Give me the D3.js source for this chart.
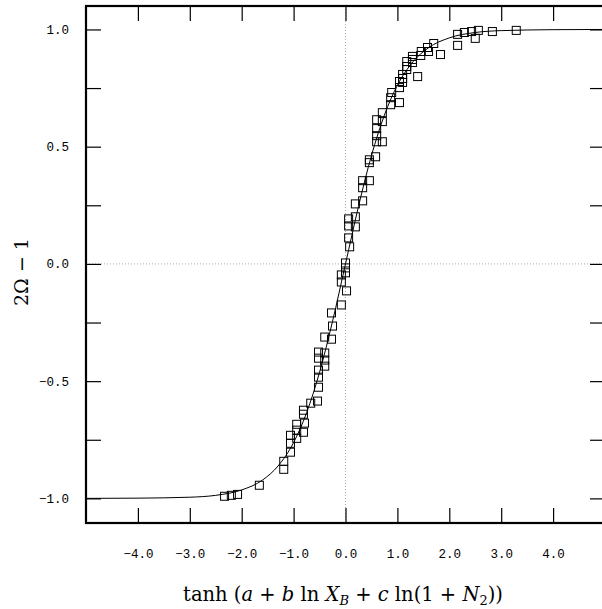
<!DOCTYPE html>
<html>
<head>
<meta charset="utf-8">
<script src="https://cdn.jsdelivr.net/npm/d3@7"></script>
<style>
	body { margin: 0; background: #fff; }
	svg { display: block; }
</style>
</head>
<body>
<div id="chart"></div>
<script>
// measured points, x = tanh argument, y = 2Ω - 1
let pointX = [-2.33, -2.20, -2.08, -1.66, -1.19, -1.19, -1.06, -1.06, -1.06, -0.94,
	-0.94, -0.94, -0.81, -0.81, -0.79, -0.81, -0.67, -0.54, -0.52, -0.52,
	-0.52, -0.52, -0.40, -0.52, -0.40, -0.40, -0.40, -0.27, -0.25, -0.27,
	-0.08, 0.02, -0.08, -0.08, 0.00, 0.00, 0.00, 0.08, 0.06, 0.06,
	0.06, 0.19, 0.19, 0.19, 0.33, 0.33, 0.33, 0.46, 0.46, 0.46,
	0.58, 0.60, 0.71, 0.71, 0.60, 0.60, 0.60, 0.71, 0.87, 0.87,
	0.89, 1.04, 1.04, 1.04, 1.10, 1.10, 1.10, 1.18, 1.18, 1.18,
	1.29, 1.29, 1.29, 1.39, 1.45, 1.46, 1.58, 1.60, 1.70, 1.83,
	2.16, 2.16, 2.29, 2.43, 2.50, 2.56, 2.83, 3.29];
let pointY = [-0.991, -0.987, -0.983, -0.944, -0.842, -0.876, -0.731, -0.765, -0.803, -0.684,
	-0.709, -0.744, -0.624, -0.641, -0.679, -0.718, -0.594, -0.585, -0.453, -0.483,
	-0.526, -0.376, -0.380, -0.402, -0.410, -0.436, -0.312, -0.321, -0.265, -0.209,
	-0.175, -0.115, -0.047, -0.077, 0.004, -0.017, -0.038, 0.073, 0.111, 0.192,
	0.162, 0.201, 0.158, 0.256, 0.269, 0.355, 0.325, 0.355, 0.444, 0.432,
	0.457, 0.615, 0.645, 0.607, 0.577, 0.547, 0.521, 0.521, 0.709, 0.679,
	0.731, 0.778, 0.752, 0.688, 0.808, 0.791, 0.774, 0.863, 0.842, 0.829,
	0.885, 0.872, 0.859, 0.799, 0.889, 0.906, 0.923, 0.906, 0.940, 0.893,
	0.979, 0.932, 0.987, 0.991, 0.962, 0.996, 0.991, 0.996];

// fitted curve
let curveX = [-5, -4, -3, -2.5, -2, -1.6, -1.3, -1, -0.75, -0.5, -0.25, 0,
	0.25, 0.5, 0.75, 1, 1.3, 1.6, 2, 2.5, 3, 4, 5];
let curveY = [-1.0, -0.999, -0.995, -0.987, -0.964, -0.922, -0.862, -0.762, -0.635, -0.462, -0.245, 0,
	0.245, 0.462, 0.635, 0.762, 0.862, 0.922, 0.964, 0.987, 0.995, 0.999, 1.0];

let xTicks = [-4, -3, -2, -1, 0, 1, 2, 3, 4];
let yTicks = [-1, -0.75, -0.5, -0.25, 0, 0.25, 0.5, 0.75, 1];
let yLabels = [-1, -0.5, 0, 0.5, 1];

let width = 602;
let height = 609;
let plotLeft = 86, plotRight = 605, plotTop = 6, plotBottom = 523;

let svg = d3.select('#chart').append('svg')
	.attr('width', width)
	.attr('height', height);

let x = d3.scaleLinear().domain([-5, 5]).range([plotLeft, plotRight]);
let y = d3.scaleLinear().domain([-1.105, 1.1]).range([plotBottom, plotTop]);

// dotted zero lines
svg.append('line')
	.attr('x1', plotLeft).attr('x2', width)
	.attr('y1', y(0)).attr('y2', y(0))
	.attr('stroke', '#aaa').attr('stroke-width', 1)
	.attr('stroke-dasharray', '1,2');
svg.append('line')
	.attr('x1', x(0)).attr('x2', x(0))
	.attr('y1', plotTop).attr('y2', plotBottom)
	.attr('stroke', '#aaa').attr('stroke-width', 1)
	.attr('stroke-dasharray', '1,2');

// axes: ticks point inward on all sides
let tickLen = 15;
svg.append('g')
	.attr('transform', 'translate(0,' + plotBottom + ')')
	.call(d3.axisBottom(x).tickValues(xTicks).tickSize(-tickLen).tickFormat(d3.format('.1f')).tickPadding(26))
	.call(g => g.select('.domain').remove());
svg.append('g')
	.attr('transform', 'translate(0,' + plotTop + ')')
	.call(d3.axisTop(x).tickValues(xTicks).tickSize(-tickLen).tickFormat(''))
	.call(g => g.select('.domain').remove());
svg.append('g')
	.attr('transform', 'translate(' + plotLeft + ',0)')
	.call(d3.axisLeft(y).tickValues(yTicks).tickSize(-tickLen).tickPadding(17)
		.tickFormat(d => yLabels.includes(d) ? d3.format('.1f')(d) : ''))
	.call(g => g.select('.domain').remove());
svg.append('g')
	.attr('transform', 'translate(' + plotRight + ',0)')
	.call(d3.axisRight(y).tickValues(yTicks).tickSize(-tickLen).tickFormat(''))
	.call(g => g.select('.domain').remove());

svg.selectAll('.tick line').attr('stroke', '#000').attr('stroke-width', 1.2);
svg.selectAll('.tick text')
	.attr('font-family', '"Liberation Mono", "DejaVu Sans Mono", monospace')
	.attr('font-size', 12.5)
	.attr('fill', '#000');

// frame
svg.append('rect')
	.attr('x', plotLeft).attr('y', plotTop)
	.attr('width', plotRight - plotLeft).attr('height', plotBottom - plotTop)
	.attr('fill', 'none')
	.attr('stroke', '#000')
	.attr('stroke-width', 2.2);

// curve
let curveData = curveX.map((d, i) => [d, curveY[i]]);
let line = d3.line()
	.x(d => x(d[0]))
	.y(d => y(d[1]))
	.curve(d3.curveMonotoneX);
svg.append('path')
	.datum(curveData)
	.attr('d', line)
	.attr('fill', 'none')
	.attr('stroke', '#000')
	.attr('stroke-width', 1);

// squares
let pts = pointX.map((d, i) => [d, pointY[i]]);
let sq = 8;
svg.append('g').selectAll('rect')
	.data(pts)
	.enter().append('rect')
		.attr('x', d => x(d[0]) - sq / 2)
		.attr('y', d => y(d[1]) - sq / 2)
		.attr('width', sq)
		.attr('height', sq)
		.attr('fill', 'none')
		.attr('stroke', '#000')
		.attr('stroke-width', 1);

// axis titles
let mathFont = '"DejaVu Serif", "Liberation Serif", serif';
let xTitle = svg.append('text')
	.attr('x', 343)
	.attr('y', 601)
	.attr('text-anchor', 'middle')
	.attr('font-family', mathFont)
	.attr('font-size', 19.5);
xTitle.append('tspan').text('tanh (');
xTitle.append('tspan').attr('font-style', 'italic').text('a');
xTitle.append('tspan').text(' + ');
xTitle.append('tspan').attr('font-style', 'italic').text('b');
xTitle.append('tspan').text(' ln ');
xTitle.append('tspan').attr('font-style', 'italic').text('X');
xTitle.append('tspan').attr('font-style', 'italic').attr('font-size', 13).attr('dy', 4).text('B');
xTitle.append('tspan').attr('dy', -4).text(' + ');
xTitle.append('tspan').attr('font-style', 'italic').text('c');
xTitle.append('tspan').text(' ln(1 + ');
xTitle.append('tspan').attr('font-style', 'italic').text('N');
xTitle.append('tspan').attr('font-size', 13).attr('dy', 4).text('2');
xTitle.append('tspan').attr('dy', -4).text('))');

svg.append('text')
	.attr('transform', 'translate(28,272) rotate(-90)')
	.attr('text-anchor', 'middle')
	.attr('font-family', mathFont)
	.attr('font-size', 19)
	.text('2Ω − 1');
</script>
</body>
</html>
